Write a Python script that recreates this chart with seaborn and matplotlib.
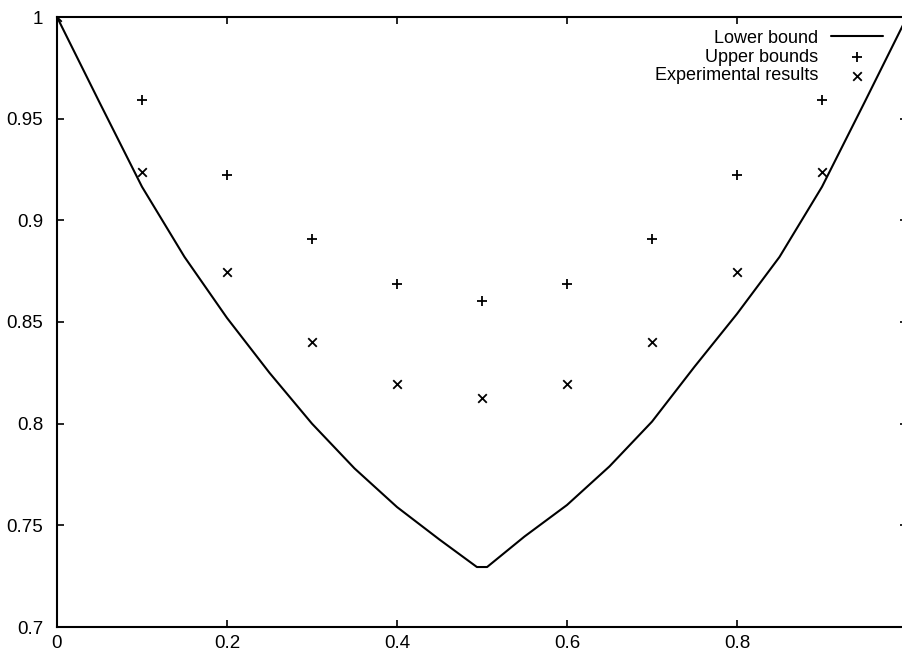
"""Cotas inferior/superior y resultados experimentales (estilo gnuplot)."""

import matplotlib
matplotlib.use("Agg")
import matplotlib.pyplot as plt
import seaborn as sns
import pandas as pd

# curva de la cota inferior
cota_x = [0.0, 0.05, 0.1, 0.15, 0.2, 0.25, 0.3, 0.35, 0.4, 0.45, 0.494,
          0.506, 0.55, 0.6, 0.65, 0.7, 0.75, 0.8, 0.85, 0.9, 0.95, 1.0]
cota_y = [1.0, 0.958, 0.9165, 0.882, 0.852, 0.825, 0.800, 0.778, 0.759, 0.743, 0.7295,
          0.7295, 0.7445, 0.760, 0.779, 0.801, 0.828, 0.854, 0.882, 0.9165, 0.958, 1.0]

# puntos
p = [0.0, 0.1, 0.2, 0.3, 0.4, 0.5, 0.6, 0.7, 0.8, 0.9]
cota_sup = [1.0, 0.959, 0.9225, 0.891, 0.8685, 0.8605, 0.8685, 0.891, 0.9225, 0.959]
experim = [1.0, 0.924, 0.8745, 0.840, 0.8195, 0.8125, 0.8195, 0.840, 0.8745, 0.9236]

xticks = [0, 0.2, 0.4, 0.6, 0.8, 1.0]
xtick_labels = ["0", "0.2", "0.4", "0.6", "0.8", ""]  # el "1" queda fuera del recorte
yticks = [0.7, 0.75, 0.8, 0.85, 0.9, 0.95, 1.0]
ytick_labels = ["0.7", "0.75", "0.8", "0.85", "0.9", "0.95", "1"]

sns.set_style("ticks")
plt.rcParams["font.family"] = ["Liberation Sans", "DejaVu Sans"]
plt.rcParams["text.color"] = "black"
plt.rcParams["xtick.color"] = "black"
plt.rcParams["ytick.color"] = "black"

df_cota = pd.DataFrame({"x": cota_x, "y": cota_y})
df_pts = pd.DataFrame({"x": p, "sup": cota_sup, "exp": experim})

fig = plt.figure(figsize=(9.03, 6.53), dpi=100)
ax = fig.add_axes([57 / 903, 26 / 653, 850 / 903, 610 / 653])

sns.lineplot(data=df_cota, x="x", y="y", ax=ax, color="black", linewidth=1.5,
             label="Lower bound", sort=False)
sns.scatterplot(data=df_pts, x="x", y="sup", ax=ax, marker="+", color="black",
                s=50, linewidth=1.3, label="Upper bounds")
sns.scatterplot(data=df_pts, x="x", y="exp", ax=ax, marker="x", color="black",
                s=38, linewidth=1.3, label="Experimental results")

ax.set_xlim(0, 1)
ax.set_ylim(0.7, 1)
ax.set_xticks(xticks)
ax.set_xticklabels(xtick_labels)
ax.set_yticks(yticks)
ax.set_yticklabels(ytick_labels)
ax.set_xlabel("")
ax.set_ylabel("")
ax.tick_params(direction="in", length=5, width=1.2, top=True, right=True,
               labelsize=13.5, colors="black")
ax.tick_params(axis="y", pad=10)
ax.tick_params(axis="x", pad=6)
for s in ax.spines.values():
    s.set_linewidth(1.5)
    s.set_color("black")

leg = ax.legend(loc="upper right", bbox_to_anchor=(0.976, 0.985), frameon=False,
                markerfirst=False, handlelength=2.9, handletextpad=0.7,
                labelspacing=0.1, borderpad=0.2, borderaxespad=0, fontsize=13)
for t in leg.get_texts():
    t.set_color("black")

fig.savefig("out.png", dpi=100)
